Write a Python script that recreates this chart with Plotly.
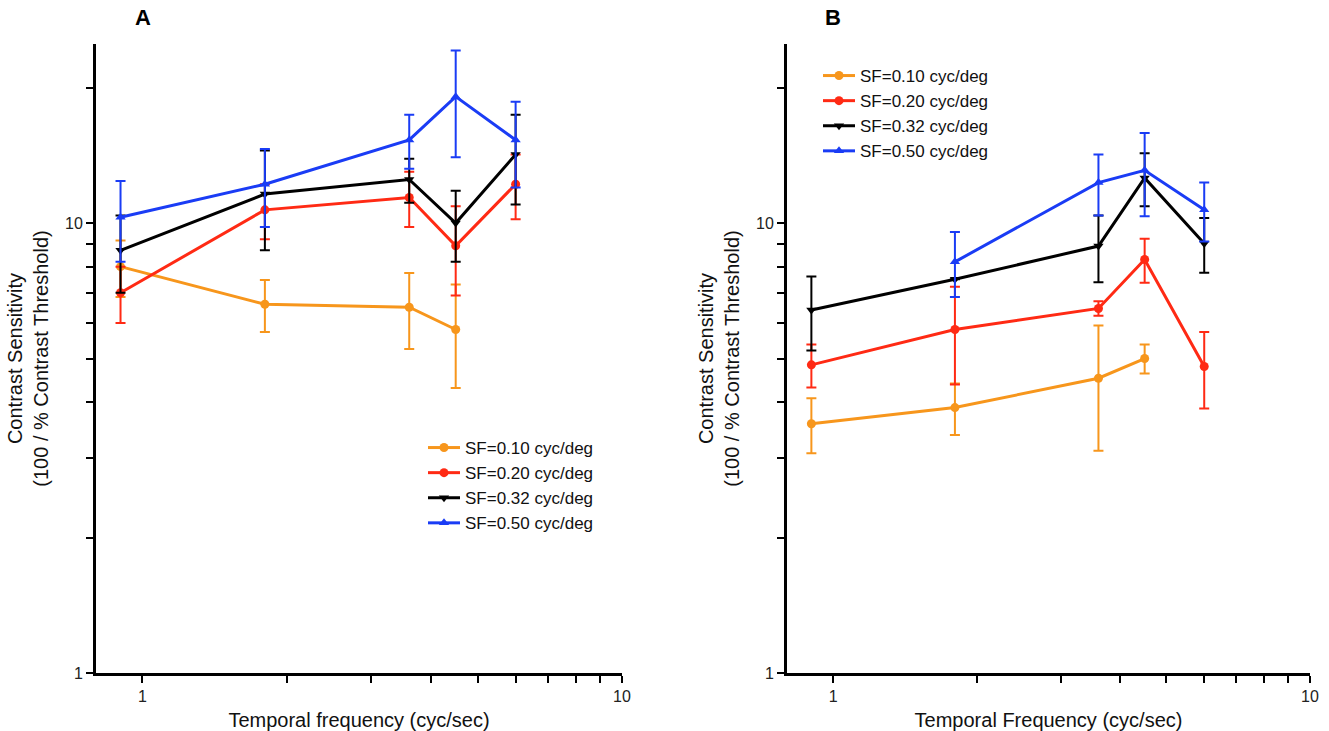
import plotly.graph_objects as go

# Temporal frequencies tested (cyc/sec)
tf = [0.9, 1.8, 3.6, 4.5, 6.0]
tf_low = [0.9, 1.8, 3.6, 4.5]
tf_high = [1.8, 3.6, 4.5, 6.0]

# Panel A: contrast sensitivity (mean) and SEM
a_sf010 = [8.0, 6.6, 6.5, 5.8]
a_sf010_sem = [1.15, 0.87, 1.25, 1.5]
a_sf020 = [7.0, 10.7, 11.4, 8.9, 12.2]
a_sf020_sem = [1.0, 1.5, 1.6, 2.0, 2.0]
a_sf032 = [8.7, 11.6, 12.5, 10.0, 14.2]
a_sf032_sem = [1.7, 2.9, 1.4, 1.8, 3.2]
a_sf050 = [10.3, 12.2, 15.3, 19.1, 15.3]
a_sf050_sem = [2.1, 2.4, 2.1, 5.1, 3.3]

# Panel B: contrast sensitivity (mean) and SEM
b_sf010 = [3.58, 3.89, 4.52, 5.0]
b_sf010_sem = [0.5, 0.51, 1.4, 0.37]
b_sf020 = [4.84, 5.8, 6.46, 8.3, 4.8]
b_sf020_sem = [0.53, 1.42, 0.24, 0.93, 0.93]
b_sf032 = [6.41, 7.5, 8.89, 12.6, 9.01]
b_sf032_sem = [1.2, 0.0, 1.5, 1.7, 1.25]
b_sf050 = [8.2, 12.3, 13.1, 10.7]
b_sf050_sem = [1.35, 1.9, 2.75, 1.6]

names = ["SF=0.10 cyc/deg", "SF=0.20 cyc/deg", "SF=0.32 cyc/deg", "SF=0.50 cyc/deg"]
colors = ["#F7961C", "#FF2A14", "#000000", "#1A3CF5"]
symbols = ["circle", "circle", "triangle-down", "triangle-up"]

x_tick_vals = [1, 2, 3, 4, 5, 6, 7, 8, 9, 10]
x_tick_text = ["1", "", "", "", "", "", "", "", "", "10"]
y_tick_vals = [1, 2, 3, 4, 5, 6, 7, 8, 9, 10, 20]
y_tick_text = ["1", "", "", "", "", "", "", "", "", "10", ""]

FONT = "Liberation Sans, Arial, sans-serif"

fig = go.Figure()

panels = [
    ("x", "y", "legend",
     [(tf_low, a_sf010, a_sf010_sem), (tf, a_sf020, a_sf020_sem),
      (tf, a_sf032, a_sf032_sem), (tf, a_sf050, a_sf050_sem)]),
    ("x2", "y2", "legend2",
     [(tf_low, b_sf010, b_sf010_sem), (tf, b_sf020, b_sf020_sem),
      (tf, b_sf032, b_sf032_sem), (tf_high, b_sf050, b_sf050_sem)]),
]

for xa, ya, leg, series in panels:
    for i, (xs, ys, es) in enumerate(series):
        fig.add_trace(go.Scatter(
            x=xs, y=ys, xaxis=xa, yaxis=ya, legend=leg,
            name=names[i], mode="lines+markers",
            line=dict(color=colors[i], width=3),
            marker=dict(color=colors[i], symbol=symbols[i], size=9),
            error_y=dict(type="data", array=es, visible=True,
                         color=colors[i], thickness=2, width=5),
        ))

axis_common = dict(
    type="log", showgrid=False, zeroline=False, showline=True,
    linecolor="black", linewidth=3, ticks="outside", ticklen=7,
    tickwidth=2, tickcolor="black", mirror=False, automargin=False,
    tickfont=dict(family=FONT, size=16, color="#222222"),
)

ydom = [1 - 673 / 731, 1 - 44 / 731]
title_font = dict(family=FONT, size=20, color="#111111")
ytitle = "Contrast Sensitivity<br>(100 / % Contrast Threshold)"

fig.update_layout(
    width=1329, height=731,
    margin=dict(l=0, r=0, t=0, b=0),
    paper_bgcolor="white", plot_bgcolor="white",
    font=dict(family=FONT, color="black"),
    xaxis=dict(axis_common, domain=[96 / 1329, 622 / 1329],
               range=[-0.0969, 1], tickmode="array",
               tickvals=x_tick_vals, ticktext=x_tick_text,
               title=dict(text="Temporal frequency (cyc/sec)",
                          font=title_font, standoff=10),
               anchor="y"),
    yaxis=dict(axis_common, domain=ydom, range=[0, 1.398],
               tickmode="array", tickvals=y_tick_vals, ticktext=y_tick_text,
               title=dict(text=ytitle, font=title_font, standoff=12),
               anchor="x"),
    xaxis2=dict(axis_common, domain=[787 / 1329, 1310 / 1329],
                range=[-0.0969, 1], tickmode="array",
                tickvals=x_tick_vals, ticktext=x_tick_text,
                title=dict(text="Temporal Frequency (cyc/sec)",
                           font=title_font, standoff=10),
                anchor="y2"),
    yaxis2=dict(axis_common, domain=ydom, range=[0, 1.398],
                tickmode="array", tickvals=y_tick_vals, ticktext=y_tick_text,
                title=dict(text=ytitle, font=title_font, standoff=12),
                anchor="x2"),
    legend=dict(x=423 / 1329, y=1 - 430 / 731, xanchor="left", yanchor="top",
                xref="paper", yref="paper", bgcolor="rgba(0,0,0,0)",
                font=dict(family=FONT, size=17, color="#111111"),
                tracegroupgap=0, itemwidth=32),
    legend2=dict(x=818 / 1329, y=1 - 58 / 731, xanchor="left", yanchor="top",
                 xref="paper", yref="paper", bgcolor="rgba(0,0,0,0)",
                 font=dict(family=FONT, size=17, color="#111111"),
                 tracegroupgap=0, itemwidth=32),
    annotations=[
        dict(text="<b>A</b>", x=143 / 1329, y=1 - 18 / 731, xref="paper",
             yref="paper", showarrow=False, font=dict(family=FONT, size=22),
             xanchor="center", yanchor="middle"),
        dict(text="<b>B</b>", x=833 / 1329, y=1 - 18 / 731, xref="paper",
             yref="paper", showarrow=False, font=dict(family=FONT, size=22),
             xanchor="center", yanchor="middle"),
    ],
    showlegend=True,
)

fig.write_html("out.html")
